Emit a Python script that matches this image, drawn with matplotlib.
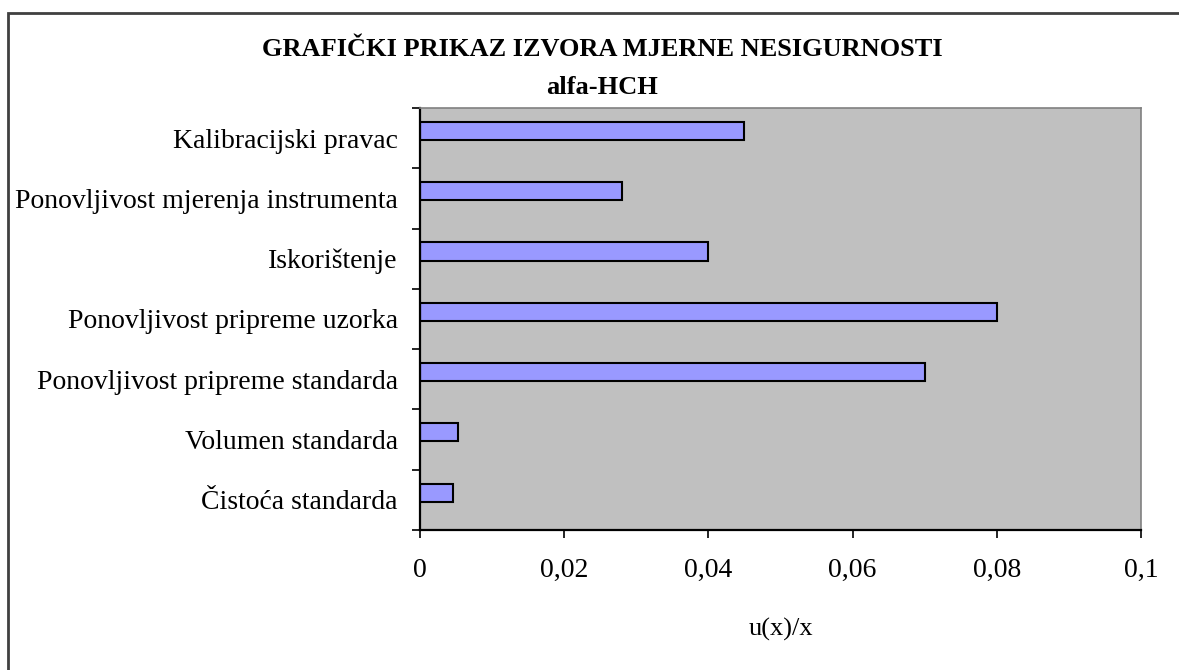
import numpy as np
import matplotlib.pyplot as plt
from matplotlib.patches import Rectangle

# izvori mjerne nesigurnosti (odozgo prema dolje)
izvori = ['Kalibracijski pravac',
          'Ponovljivost mjerenja instrumenta',
          'Iskorištenje',
          'Ponovljivost pripreme uzorka',
          'Ponovljivost pripreme standarda',
          'Volumen standarda',
          'Čistoća standarda']
vrijednosti = [0.045, 0.028, 0.040, 0.080, 0.070, 0.0053, 0.0046]
x_ticks = [0, 0.02, 0.04, 0.06, 0.08, 0.1]
x_tick_labels = ['0', '0,02', '0,04', '0,06', '0,08', '0,1']

plt.rcParams['font.family'] = ['Liberation Serif', 'DejaVu Serif']

fig = plt.figure(figsize=(11.79, 6.70), dpi=100)
ax = fig.add_axes([420 / 1179, 1 - 530 / 670, 721 / 1179, 422 / 670])

n = len(izvori)
pos = np.arange(n)[::-1]
# Excel crta stupce malo iznad sredine kategorije
ax.barh(pos + 0.12, vrijednosti, height=0.3, color='#9999FF',
        edgecolor='black', linewidth=1.5)

ax.set_xlim(0, 0.1)
ax.set_ylim(-0.5, n - 0.5)
ax.set_facecolor('#C0C0C0')
ax.set_xticks(x_ticks)
ax.set_xticklabels(x_tick_labels, fontsize=20)
ax.set_yticks(np.arange(n + 1) - 0.5, minor=False)
ax.set_yticklabels([])
ax.set_yticks(pos, minor=True)
ax.set_yticklabels(izvori, minor=True, fontsize=20)
ax.tick_params(axis='y', which='minor', length=0, pad=16)
ax.tick_params(axis='y', which='major', length=6, width=1.2, direction='out')
ax.tick_params(axis='x', length=6, width=1.2, pad=14)

for side in ['top', 'right']:
    ax.spines[side].set_color('#808080')
    ax.spines[side].set_linewidth(1.2)
for side in ['left', 'bottom']:
    ax.spines[side].set_linewidth(1.6)

ax.set_xlabel('u(x)/x', fontsize=19, labelpad=25)

fig.text(602 / 1179, 1 - 50 / 670, 'GRAFIČKI PRIKAZ IZVORA MJERNE NESIGURNOSTI',
         ha='center', va='center', fontsize=19, fontweight='bold')
fig.text(602 / 1179, 1 - 87 / 670, 'alfa-HCH',
         ha='center', va='center', fontsize=19, fontweight='bold')

# okvir grafikona - desni i donji rub su odrezani
fig.patches.append(Rectangle((8 / 1179, -20 / 670), 1200 / 1179, 677 / 670,
                             transform=fig.transFigure, fill=False,
                             edgecolor='#404040', linewidth=2))

fig.savefig('out.png', dpi=100)
